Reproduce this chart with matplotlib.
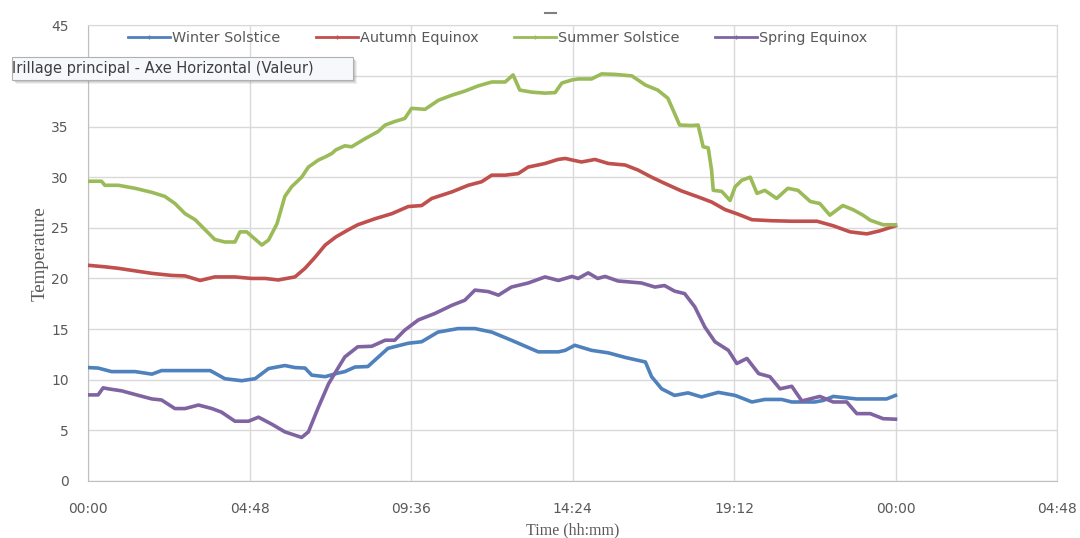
import matplotlib.pyplot as plt
from matplotlib.lines import Line2D
from matplotlib.patches import Rectangle
from matplotlib.ticker import FuncFormatter, MultipleLocator

# Temperature logs over one day (minutes after midnight, temperature)
winter_t = [0, 18, 42, 84, 114, 131, 173, 218, 244, 274, 298, 322, 351, 369, 387, 399,
            423, 442, 458, 476, 499, 535, 571, 595, 624, 660, 690, 720, 755, 803, 839,
            851, 868, 898, 928, 958, 994, 1005, 1023, 1046, 1070, 1094, 1124, 1154,
            1184, 1207, 1237, 1255, 1296, 1311, 1329, 1371, 1424, 1440]
winter_v = [11.2, 11.15, 10.8, 10.8, 10.55, 10.9, 10.9, 10.9, 10.1, 9.9, 10.1, 11.1, 11.4,
            11.2, 11.15, 10.45, 10.3, 10.6, 10.8, 11.25, 11.3, 13.1, 13.6, 13.75, 14.7,
            15.05, 15.05, 14.7, 13.9, 12.75, 12.75, 12.9, 13.4, 12.9, 12.65, 12.2, 11.75,
            10.3, 9.1, 8.45, 8.7, 8.3, 8.75, 8.45, 7.8, 8.05, 8.05, 7.8, 7.8, 7.95, 8.35,
            8.1, 8.1, 8.45]

autumn_t = [0, 30, 54, 84, 114, 149, 173, 200, 226, 262, 292, 316, 339, 369, 387, 405,
            423, 442, 464, 481, 512, 542, 571, 595, 613, 649, 678, 702, 720, 744, 767,
            785, 815, 838, 851, 863, 880, 904, 928, 958, 981, 1005, 1028, 1058, 1088,
            1112, 1136, 1159, 1184, 1219, 1255, 1300, 1329, 1359, 1389, 1412, 1440]
autumn_v = [21.3, 21.15, 21.0, 20.75, 20.5, 20.3, 20.25, 19.8, 20.15, 20.15, 20.0, 20.0,
            19.85, 20.15, 21.0, 22.1, 23.3, 24.1, 24.8, 25.3, 25.9, 26.4, 27.1, 27.2,
            27.9, 28.55, 29.2, 29.55, 30.2, 30.2, 30.35, 31.0, 31.35, 31.75, 31.85, 31.7,
            31.5, 31.75, 31.35, 31.2, 30.7, 30.0, 29.4, 28.65, 28.05, 27.55, 26.8, 26.35,
            25.8, 25.7, 25.65, 25.65, 25.2, 24.6, 24.4, 24.7, 25.2]

summer_t = [0, 24, 30, 54, 84, 114, 137, 155, 173, 191, 209, 226, 244, 262, 271, 283,
            310, 322, 337, 351, 363, 381, 393, 411, 423, 435, 442, 458, 470, 494, 517,
            530, 547, 565, 577, 601, 625, 649, 672, 695, 720, 744, 758, 770, 791, 815,
            833, 845, 863, 874, 898, 916, 940, 970, 994, 1016, 1034, 1046, 1055, 1076,
            1088, 1097, 1106, 1112, 1115, 1130, 1145, 1154, 1166, 1181, 1193, 1207,
            1228, 1248, 1266, 1288, 1305, 1323, 1346, 1364, 1382, 1395, 1418, 1440]
summer_v = [29.6, 29.6, 29.2, 29.2, 28.9, 28.5, 28.1, 27.4, 26.4, 25.8, 24.8, 23.85,
            23.6, 23.6, 24.6, 24.6, 23.3, 23.8, 25.4, 28.1, 29.05, 30.0, 31.0, 31.7,
            32.0, 32.35, 32.7, 33.1, 33.0, 33.8, 34.5, 35.15, 35.5, 35.8, 36.8, 36.7,
            37.6, 38.1, 38.5, 39.0, 39.4, 39.4, 40.1, 38.6, 38.4, 38.3, 38.35, 39.3,
            39.6, 39.7, 39.7, 40.2, 40.15, 40.0, 39.1, 38.6, 37.8, 36.3, 35.15, 35.1,
            35.15, 33.0, 32.9, 30.7, 28.7, 28.6, 27.7, 29.05, 29.7, 30.0, 28.4, 28.7,
            27.9, 28.9, 28.7, 27.6, 27.4, 26.25, 27.2, 26.8, 26.25, 25.75, 25.3, 25.3]

spring_t = [0, 18, 27, 36, 60, 90, 114, 131, 155, 173, 197, 221, 238, 262, 286, 304,
            328, 351, 381, 393, 411, 429, 442, 458, 481, 506, 530, 547, 565, 589, 619,
            649, 672, 690, 714, 732, 755, 785, 815, 839, 863, 874, 892, 909, 922, 945,
            987, 1011, 1028, 1046, 1064, 1082, 1100, 1118, 1142, 1157, 1175, 1196, 1216,
            1234, 1255, 1273, 1305, 1329, 1353, 1371, 1395, 1418, 1440]
spring_v = [8.5, 8.5, 9.2, 9.1, 8.9, 8.45, 8.1, 8.0, 7.15, 7.15, 7.5, 7.15, 6.8, 5.9,
            5.9, 6.3, 5.6, 4.85, 4.3, 4.85, 7.3, 9.6, 10.8, 12.25, 13.25, 13.3, 13.9,
            13.9, 14.9, 15.9, 16.55, 17.35, 17.85, 18.85, 18.7, 18.35, 19.15, 19.55,
            20.15, 19.8, 20.2, 20.0, 20.55, 20.0, 20.2, 19.75, 19.55, 19.15, 19.3, 18.75,
            18.5, 17.2, 15.2, 13.75, 12.9, 11.6, 12.1, 10.6, 10.3, 9.1, 9.35, 7.9, 8.35,
            7.8, 7.8, 6.65, 6.65, 6.15, 6.1]

series = [
    ("Winter Solstice", winter_t, winter_v, "#4F81BD"),
    ("Autumn Equinox", autumn_t, autumn_v, "#C0504D"),
    ("Summer Solstice", summer_t, summer_v, "#9BBB59"),
    ("Spring Equinox", spring_t, spring_v, "#8064A2"),
]

tick_color = "#595959"
grid_color = "#D9D9D9"

fig = plt.figure(figsize=(10.8, 5.38), dpi=100)
ax = fig.add_axes([0.0815, 0.106, 0.8972, 0.847])

handles = []
for name, t, v, col in series:
    ax.plot(t, v, color=col, linewidth=2.6, solid_joinstyle="round", zorder=3)
    handles.append(Line2D([0], [0], color=col, linewidth=2.0, marker="+",
                          markersize=3, markeredgewidth=1.0, label=name))

ax.set_xlim(0, 1728)
ax.set_ylim(0, 45)
ax.xaxis.set_major_locator(MultipleLocator(288))
ax.yaxis.set_major_locator(MultipleLocator(5))


def hhmm(x, pos):
    m = int(round(x)) % 1440
    return f"{m // 60:02d}:{m % 60:02d}"


ax.xaxis.set_major_formatter(FuncFormatter(hhmm))
ax.grid(True, color=grid_color, linewidth=1.0, zorder=0)
ax.set_axisbelow(True)
for side in ["top", "right"]:
    ax.spines[side].set_color(grid_color)
for side in ["left", "bottom"]:
    ax.spines[side].set_color("#BFBFBF")
ax.tick_params(length=0, labelsize=10, colors=tick_color)
ax.tick_params(axis="x", pad=15)
ax.tick_params(axis="y", pad=14)

ax.set_xlabel("Time (hh:mm)", family="Liberation Serif", fontsize=11.5,
              color=tick_color, labelpad=5)
ax.set_ylabel("Temperature", family="Liberation Serif", fontsize=13.5,
              color=tick_color, labelpad=2)

fig.legend(handles=handles, loc="center", bbox_to_anchor=(0.461, 0.929), ncol=4,
           frameon=False, fontsize=10.4, handlelength=2.9, handletextpad=0.15,
           columnspacing=2.45, labelcolor=tick_color)

# hover tooltip over the gridlines, with a soft drop shadow
for off, a in [(4, 0.12), (3, 0.15), (2, 0.2)]:
    fig.add_artist(Rectangle(((12 + off) / 1080, 1 - (80 + off) / 538), 341 / 1080, 23 / 538,
                             transform=fig.transFigure, facecolor="#808080",
                             edgecolor="none", alpha=a, zorder=5))
fig.add_artist(Rectangle((12 / 1080, 1 - 80 / 538), 341 / 1080, 23 / 538,
                         transform=fig.transFigure, facecolor="#F7F8FB",
                         edgecolor="#B0B0B0", linewidth=0.8, zorder=6))
fig.text(12 / 1080, 1 - 69 / 538, "Irillage principal - Axe Horizontal (Valeur)",
         fontsize=10.5, color="#3F3F3F", ha="left", va="center", zorder=7)

# remnant of the chart title cut at the top
fig.add_artist(Line2D([545 / 1080, 556 / 1080], [1 - 13 / 538, 1 - 13 / 538],
                      transform=fig.transFigure, color="#7F7F7F", linewidth=1.5))

fig.savefig("out.png", dpi=100)
